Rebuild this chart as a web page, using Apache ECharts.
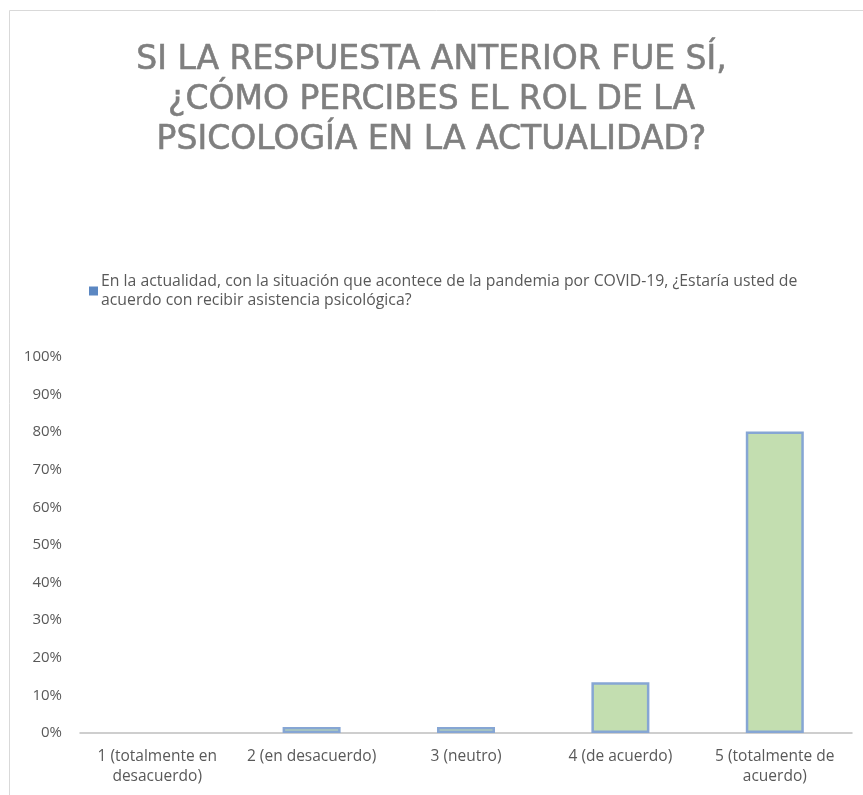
<!DOCTYPE html>
<html>
<head>
<meta charset="utf-8">
<script src="https://cdn.jsdelivr.net/npm/echarts@6/dist/echarts.min.js"></script>
<style>
  html, body { margin: 0; padding: 0; background: #fff; }
  #chart { width: 863px; height: 795px; }
</style>
</head>
<body>
<div id="chart"></div>
<script>
const titleText = 'SI LA RESPUESTA ANTERIOR FUE SÍ,\n¿CÓMO PERCIBES EL ROL DE LA\nPSICOLOGÍA EN LA ACTUALIDAD?';
const seriesName = 'En la actualidad, con la situación que acontece de la pandemia por COVID-19, ¿Estaría usted de acuerdo con recibir asistencia psicológica?';
const categories = ['1 (totalmente en\ndesacuerdo)', '2 (en desacuerdo)', '3 (neutro)', '4 (de acuerdo)', '5 (totalmente de\nacuerdo)'];
const values = [0, 1.6, 1.6, 13.5, 80.2];

const chart = echarts.init(document.getElementById('chart'));
chart.setOption({
  animation: false,
  textStyle: { fontFamily: 'Open Sans' },
  graphic: [{
    type: 'rect',
    shape: { x: 9.5, y: 10.5, width: 900, height: 900 },
    style: { fill: 'none', stroke: '#d9d9d9', lineWidth: 1 },
    silent: true
  }],
  title: {
    text: titleText,
    left: 'center',
    top: 35,
    textStyle: {
      color: '#7f7f7f',
      fontSize: 33,
      fontWeight: 'normal',
      lineHeight: 40,
      fontFamily: 'DejaVu Sans',
      textBorderColor: '#7f7f7f',
      textBorderWidth: 0.6
    }
  },
  legend: {
    left: 84,
    top: 267,
    icon: 'rect',
    itemWidth: 9,
    itemHeight: 9,
    itemGap: 4,
    formatter: function (name) {
      return name.replace(' acuerdo con', '\nacuerdo con');
    },
    textStyle: { color: '#595959', fontSize: 15.8, lineHeight: 19, fontFamily: 'Open Sans', padding: [0, 0, 0, -2] },
    data: [{ name: seriesName, itemStyle: { color: '#5b87c2', borderWidth: 0 } }]
  },
  grid: { left: 80, right: 11, top: 357, bottom: 62 },
  xAxis: {
    type: 'category',
    data: categories,
    axisLine: { lineStyle: { color: '#bfbfbf', width: 1.5 } },
    axisTick: { show: false },
    axisLabel: { color: '#595959', fontSize: 15.5, lineHeight: 20, margin: 14, interval: 0 }
  },
  yAxis: {
    type: 'value',
    min: 0,
    max: 100,
    interval: 10,
    splitLine: { show: false },
    axisLine: { show: false },
    axisTick: { show: false },
    axisLabel: { color: '#595959', fontSize: 15, margin: 18, formatter: '{value}%' }
  },
  series: [{
    name: seriesName,
    type: 'bar',
    data: values.map(function (v) {
      return v === 0 ? { value: v, itemStyle: { borderWidth: 0 } } : v;
    }),
    barWidth: 58,
    itemStyle: {
      color: '#c3deb0',
      borderColor: '#86a6d4',
      borderWidth: 2.5
    }
  }]
});
</script>
</body>
</html>
